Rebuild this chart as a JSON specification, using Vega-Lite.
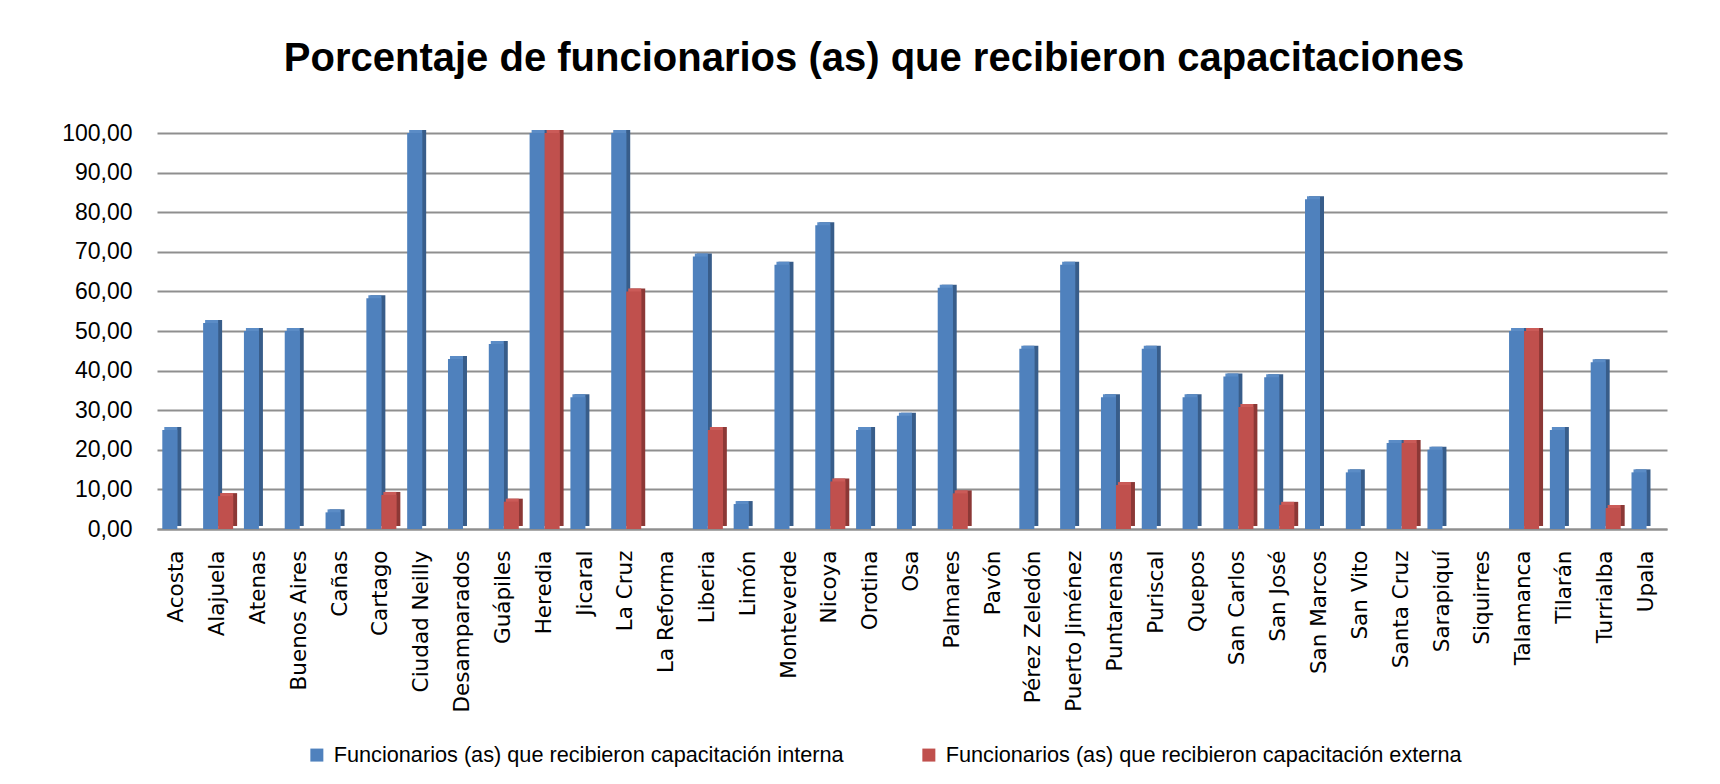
{
  "$schema": "https://vega.github.io/schema/vega-lite/v6.json",
  "autosize": {"type": "none"},
  "padding": {"left": 157, "top": 133, "right": 53, "bottom": 255},
  "width": 1510,
  "height": 396,
  "background": "white",
  "title": {
    "text": "Porcentaje de funcionarios (as) que recibieron capacitaciones",
    "font": "Liberation Sans",
    "fontSize": 40,
    "fontWeight": "bold",
    "color": "#000000",
    "anchor": "middle",
    "dx": -38,
    "offset": 43
  },
  "data": {
    "values": [
      {"municipio": "Acosta", "tipo": "interna", "valor": 25.0},
      {"municipio": "Acosta", "tipo": "externa", "valor": 0},
      {"municipio": "Alajuela", "tipo": "interna", "valor": 52.0},
      {"municipio": "Alajuela", "tipo": "externa", "valor": 8.3},
      {"municipio": "Atenas", "tipo": "interna", "valor": 50.0},
      {"municipio": "Atenas", "tipo": "externa", "valor": 0},
      {"municipio": "Buenos Aires", "tipo": "interna", "valor": 50.0},
      {"municipio": "Buenos Aires", "tipo": "externa", "valor": 0},
      {"municipio": "Cañas", "tipo": "interna", "valor": 4.2},
      {"municipio": "Cañas", "tipo": "externa", "valor": 0},
      {"municipio": "Cartago", "tipo": "interna", "valor": 58.3},
      {"municipio": "Cartago", "tipo": "externa", "valor": 8.6},
      {"municipio": "Ciudad Neilly", "tipo": "interna", "valor": 100.0},
      {"municipio": "Ciudad Neilly", "tipo": "externa", "valor": 0},
      {"municipio": "Desamparados", "tipo": "interna", "valor": 42.9},
      {"municipio": "Desamparados", "tipo": "externa", "valor": 0},
      {"municipio": "Guápiles", "tipo": "interna", "valor": 46.7},
      {"municipio": "Guápiles", "tipo": "externa", "valor": 6.9},
      {"municipio": "Heredia", "tipo": "interna", "valor": 100.0},
      {"municipio": "Heredia", "tipo": "externa", "valor": 100.0},
      {"municipio": "Jicaral", "tipo": "interna", "valor": 33.3},
      {"municipio": "Jicaral", "tipo": "externa", "valor": 0},
      {"municipio": "La Cruz", "tipo": "interna", "valor": 100.0},
      {"municipio": "La Cruz", "tipo": "externa", "valor": 60.0},
      {"municipio": "La Reforma", "tipo": "interna", "valor": 0},
      {"municipio": "La Reforma", "tipo": "externa", "valor": 0},
      {"municipio": "Liberia", "tipo": "interna", "valor": 68.8},
      {"municipio": "Liberia", "tipo": "externa", "valor": 25.0},
      {"municipio": "Limón", "tipo": "interna", "valor": 6.3},
      {"municipio": "Limón", "tipo": "externa", "valor": 0},
      {"municipio": "Monteverde", "tipo": "interna", "valor": 66.7},
      {"municipio": "Monteverde", "tipo": "externa", "valor": 0},
      {"municipio": "Nicoya", "tipo": "interna", "valor": 76.7},
      {"municipio": "Nicoya", "tipo": "externa", "valor": 12.0},
      {"municipio": "Orotina", "tipo": "interna", "valor": 25.0},
      {"municipio": "Orotina", "tipo": "externa", "valor": 0},
      {"municipio": "Osa", "tipo": "interna", "valor": 28.6},
      {"municipio": "Osa", "tipo": "externa", "valor": 0},
      {"municipio": "Palmares", "tipo": "interna", "valor": 60.9},
      {"municipio": "Palmares", "tipo": "externa", "valor": 9.0},
      {"municipio": "Pavón", "tipo": "interna", "valor": 0},
      {"municipio": "Pavón", "tipo": "externa", "valor": 0},
      {"municipio": "Pérez Zeledón", "tipo": "interna", "valor": 45.5},
      {"municipio": "Pérez Zeledón", "tipo": "externa", "valor": 0},
      {"municipio": "Puerto Jiménez", "tipo": "interna", "valor": 66.7},
      {"municipio": "Puerto Jiménez", "tipo": "externa", "valor": 0},
      {"municipio": "Puntarenas", "tipo": "interna", "valor": 33.3},
      {"municipio": "Puntarenas", "tipo": "externa", "valor": 11.1},
      {"municipio": "Puriscal", "tipo": "interna", "valor": 45.5},
      {"municipio": "Puriscal", "tipo": "externa", "valor": 0},
      {"municipio": "Quepos", "tipo": "interna", "valor": 33.3},
      {"municipio": "Quepos", "tipo": "externa", "valor": 0},
      {"municipio": "San Carlos", "tipo": "interna", "valor": 38.5},
      {"municipio": "San Carlos", "tipo": "externa", "valor": 30.8},
      {"municipio": "San José", "tipo": "interna", "valor": 38.3},
      {"municipio": "San José", "tipo": "externa", "valor": 6.1},
      {"municipio": "San Marcos", "tipo": "interna", "valor": 83.3},
      {"municipio": "San Marcos", "tipo": "externa", "valor": 0},
      {"municipio": "San Vito", "tipo": "interna", "valor": 14.3},
      {"municipio": "San Vito", "tipo": "externa", "valor": 0},
      {"municipio": "Santa Cruz", "tipo": "interna", "valor": 21.7},
      {"municipio": "Santa Cruz", "tipo": "externa", "valor": 21.7},
      {"municipio": "Sarapiquí", "tipo": "interna", "valor": 20.0},
      {"municipio": "Sarapiquí", "tipo": "externa", "valor": 0},
      {"municipio": "Siquirres", "tipo": "interna", "valor": 0},
      {"municipio": "Siquirres", "tipo": "externa", "valor": 0},
      {"municipio": "Talamanca", "tipo": "interna", "valor": 50.0},
      {"municipio": "Talamanca", "tipo": "externa", "valor": 50.0},
      {"municipio": "Tilarán", "tipo": "interna", "valor": 25.0},
      {"municipio": "Tilarán", "tipo": "externa", "valor": 0},
      {"municipio": "Turrialba", "tipo": "interna", "valor": 42.1},
      {"municipio": "Turrialba", "tipo": "externa", "valor": 5.3},
      {"municipio": "Upala", "tipo": "interna", "valor": 14.3},
      {"municipio": "Upala", "tipo": "externa", "valor": 0}
    ]
  },
  "encoding": {
    "x": {
      "field": "municipio",
      "type": "nominal",
      "sort": null,
      "scale": {"paddingInner": 0.26, "paddingOuter": 0.13},
      "axis": {
        "title": null,
        "labelAngle": -90,
        "labelAlign": "right",
        "labelBaseline": "middle",
        "labelFont": "DejaVu Sans",
        "labelFontSize": 21.5,
        "labelColor": "#000000",
        "labelPadding": 21,
        "ticks": false,
        "domainColor": "#8f8f8f",
        "domainWidth": 2,
        "labelOverlap": false
      }
    },
    "y": {
      "field": "valor",
      "type": "quantitative",
      "scale": {"domain": [0, 100], "nice": false},
      "axis": {
        "title": null,
        "values": [0, 10, 20, 30, 40, 50, 60, 70, 80, 90, 100],
        "labelExpr": "replace(format(datum.value, '.2f'), '.', ',')",
        "labelFont": "Liberation Sans",
        "labelFontSize": 23,
        "labelColor": "#000000",
        "labelPadding": 25,
        "ticks": false,
        "domain": false,
        "grid": true,
        "gridColor": "#8f8f8f",
        "gridWidth": 2
      }
    }
  },
  "layer": [
    {
      "mark": {"type": "bar", "yOffset": -3},
      "encoding": {
        "xOffset": {
          "field": "tipo",
          "type": "nominal",
          "sort": ["interna", "externa"],
          "scale": {"range": [4, 34], "paddingInner": 0, "paddingOuter": 0}
        },
        "color": {
          "field": "tipo",
          "type": "nominal",
          "scale": {"domain": ["interna", "externa"], "range": ["#385D8A", "#8C3836"]},
          "legend": null
        }
      }
    },
    {
      "mark": {"type": "bar", "yOffset": -3},
      "encoding": {
        "xOffset": {
          "field": "tipo",
          "type": "nominal",
          "sort": ["interna", "externa"],
          "scale": {"range": [2, 30], "paddingInner": 0.1333, "paddingOuter": 0}
        },
        "color": {
          "field": "tipo",
          "type": "nominal",
          "scale": {"domain": ["interna", "externa"], "range": ["#5B8CC6", "#CB5B58"]},
          "legend": null
        }
      }
    },
    {
      "mark": {"type": "bar"},
      "encoding": {
        "xOffset": {
          "field": "tipo",
          "type": "nominal",
          "sort": ["interna", "externa"],
          "scale": {"range": [0, 30], "paddingInner": 0, "paddingOuter": 0}
        },
        "color": {
          "field": "tipo",
          "type": "nominal",
          "scale": {"domain": ["interna", "externa"], "range": ["#4F81BD", "#C0504D"]},
          "legend": {
            "title": null,
            "orient": "none",
            "legendX": 149,
            "legendY": 611,
            "direction": "horizontal",
            "symbolType": "square",
            "symbolSize": 169,
            "symbolStrokeWidth": 0,
            "labelFont": "Liberation Sans",
            "labelFontSize": 21.7,
            "labelColor": "#000000",
            "labelOffset": 6,
            "labelLimit": 0,
            "columnPadding": 74,
            "labelExpr": "datum.value == 'interna' ? 'Funcionarios (as) que recibieron capacitación interna' : 'Funcionarios (as) que recibieron capacitación externa'"
          }
        }
      }
    }
  ],
  "resolve": {
    "scale": {"xOffset": "independent", "color": "independent"},
    "legend": {"color": "independent"}
  },
  "config": {
    "view": {"stroke": null}
  }
}
